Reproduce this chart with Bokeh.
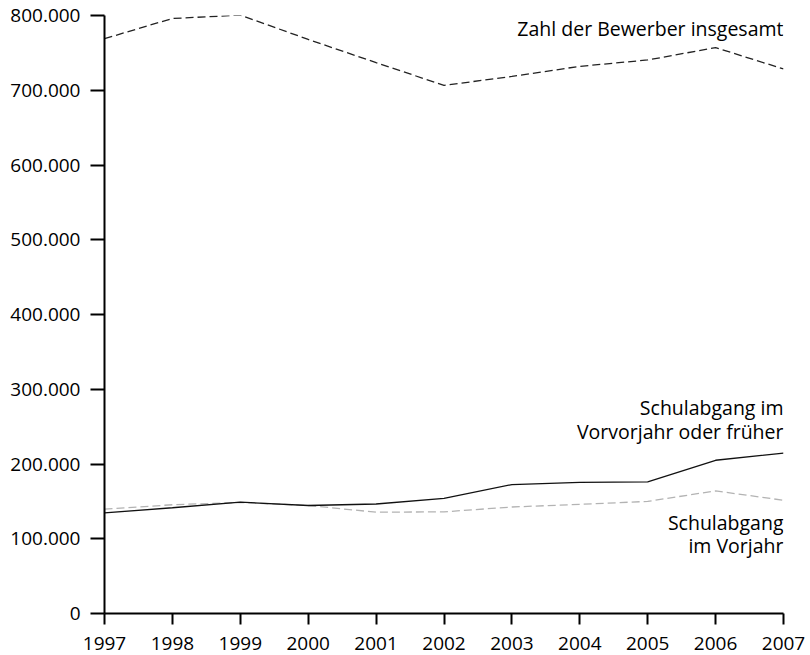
from bokeh.plotting import figure
from bokeh.models import Range1d, FixedTicker, Label
from bokeh.embed import file_html
from bokeh.resources import INLINE

years = [1997, 1998, 1999, 2000, 2001, 2002, 2003, 2004, 2005, 2006, 2007]
bewerber_insgesamt = [769000, 796000, 800500, 768000, 737000, 706500, 718500, 732000, 740500, 757000, 728500]
vorvorjahr_frueher = [134500, 141500, 149000, 144500, 146500, 154000, 172500, 175500, 176000, 205000, 214500]
vorjahr = [139500, 145500, 148500, 144500, 135500, 136000, 142500, 146000, 150000, 164000, 151500]

y_ticks = [0, 100000, 200000, 300000, 400000, 500000, 600000, 700000, 800000]
y_tick_labels = ["0", "100.000", "200.000", "300.000", "400.000", "500.000", "600.000", "700.000", "800.000"]

FONT = "Open Sans"
FS = "19px"
FS_LAB = "19.5px"

p = figure(width=810, height=655, output_backend="svg", toolbar_location=None,
           x_range=Range1d(1997, 2007), y_range=Range1d(0, 800000),
           min_border_left=104, min_border_right=27, min_border_top=15, min_border_bottom=42)
p.outline_line_color = None
p.grid.visible = False
p.background_fill_color = "white"

# axes
p.xaxis.ticker = FixedTicker(ticks=years)
p.xaxis.major_label_overrides = {y: str(y) for y in years}
p.yaxis.ticker = FixedTicker(ticks=y_ticks)
p.yaxis.major_label_overrides = {t: l for t, l in zip(y_ticks, y_tick_labels)}
for ax in (p.xaxis[0], p.yaxis[0]):
    ax.axis_line_width = 2
    ax.axis_line_color = "black"
    ax.major_tick_line_width = 2
    ax.major_tick_line_color = "black"
    ax.minor_tick_line_color = None
    ax.major_tick_in = 0
    ax.major_label_text_font = FONT
    ax.major_label_text_font_size = FS
    ax.major_label_text_color = "black"
p.xaxis.major_tick_out = 11
p.xaxis.major_label_standoff = 12
p.yaxis.major_tick_out = 14
p.yaxis.major_label_standoff = 10

# lines
p.line(years, bewerber_insgesamt, line_color="#222222", line_width=1.3, line_dash="8 4")
p.line(years, vorjahr, line_color="#b3b3b3", line_width=1.3, line_dash="8 4")
p.line(years, vorvorjahr_frueher, line_color="#111111", line_width=1.3)

# labels
def lab(text, yv):
    p.add_layout(Label(x=2007, y=yv, text=text, text_align="right", text_baseline="alphabetic",
                       text_font=FONT, text_font_size=FS_LAB, text_color="black"))

lab("Zahl der Bewerber insgesamt", 783000)
lab("Schulabgang im", 276000)
lab("Vorvorjahr oder früher", 243500)
lab("Schulabgang", 122000)
lab("im Vorjahr", 90500)

open("out.html", "w").write(file_html(p, INLINE))
